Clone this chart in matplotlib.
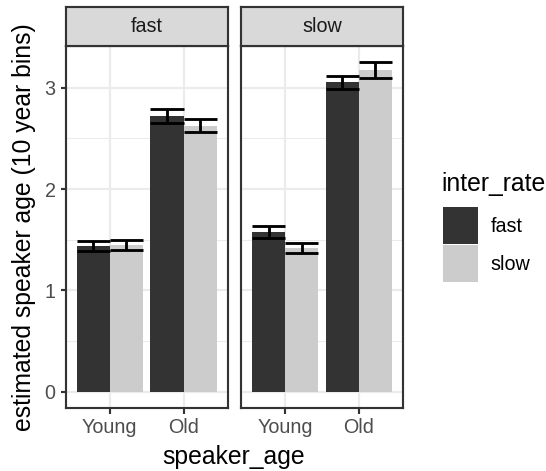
import numpy as np
from matplotlib import pyplot as plt
from matplotlib.patches import Patch

plt.rcParams['font.family'] = ['Liberation Sans', 'DejaVu Sans']

panels = ['fast', 'slow']
ages = ['Young', 'Old']
rates = ['fast', 'slow']
colors = {'fast': '#333333', 'slow': '#CCCCCC'}

# mean per panel, [Young, Old]
mean_fast_rate = {'fast': [1.44, 2.72], 'slow': [1.575, 3.055]}
mean_slow_rate = {'fast': [1.45, 2.625], 'slow': [1.415, 3.175]}
se_fast_rate = {'fast': [0.05, 0.07], 'slow': [0.055, 0.065]}
se_slow_rate = {'fast': [0.05, 0.065], 'slow': [0.05, 0.075]}

means = {'fast': mean_fast_rate, 'slow': mean_slow_rate}
ses = {'fast': se_fast_rate, 'slow': se_slow_rate}

W, H = 546, 471
DPI = 144
fig = plt.figure(figsize=(W / DPI, H / DPI), dpi=DPI)

SMALL = 9.9
BIG = 12.4

def box(x0, y0, x1, y1):
    return [x0 / W, 1 - y1 / H, (x1 - x0) / W, (y1 - y0) / H]

panel_x = [(65.5, 228), (241, 403)]
top, bottom = 46, 408
strip_top = 7

ymax = max(max(np.array(means[r][p]) + np.array(ses[r][p])) for r in rates for p in panels)
ylim = (-0.05 * ymax, ymax * 1.05)

dodge = 0.225
barw = 0.45
x = np.arange(len(ages))
border = '#333333'

for i, p in enumerate(panels):
    x0, x1 = panel_x[i]
    ax = fig.add_axes(box(x0, top, x1, bottom))
    for j, r in enumerate(rates):
        xs = x + (j - 0.5) * 2 * dodge
        m = np.array(means[r][p])
        s = np.array(ses[r][p])
        ax.bar(xs, m, width=barw, color=colors[r], zorder=2)
        ax.vlines(xs, m - s, m + s, color='black', linewidth=1.42, zorder=3)
        ax.hlines(np.concatenate([m - s, m + s]),
                  np.concatenate([xs - barw / 2] * 2),
                  np.concatenate([xs + barw / 2] * 2),
                  color='black', linewidth=1.42, zorder=3)
    ax.set_xlim(-0.6, 1.6)
    ax.set_ylim(*ylim)
    ax.set_xticks(x)
    ax.set_xticklabels(ages)
    ax.set_yticks([0, 1, 2, 3])
    ax.set_yticks([0.5, 1.5, 2.5], minor=True)
    ax.grid(True, which='major', color='#EBEBEB', linewidth=1.07, zorder=0)
    ax.grid(True, which='minor', axis='y', color='#EBEBEB', linewidth=0.53, zorder=0)
    ax.set_axisbelow(True)
    ax.tick_params(axis='both', which='major', length=2.75, width=1.07,
                   color=border, labelcolor='#4D4D4D', labelsize=SMALL, pad=2.2)
    ax.tick_params(axis='both', which='minor', length=0)
    if i > 0:
        ax.tick_params(axis='y', which='both', length=0, labelleft=False)
    for sp in ax.spines.values():
        sp.set_color(border)
        sp.set_linewidth(1.07)

    sax = fig.add_axes(box(x0, strip_top, x1, top))
    sax.set_facecolor('#D9D9D9')
    sax.set_xticks([])
    sax.set_yticks([])
    for sp in sax.spines.values():
        sp.set_color(border)
        sp.set_linewidth(1.07)
    sax.text(0.5, 0.5, p, ha='center', va='center', fontsize=SMALL,
             color='#1A1A1A', transform=sax.transAxes)

fig.text(24 / W, 1 - 227 / H, 'estimated speaker age (10 year bins)',
         rotation=90, ha='center', va='center', fontsize=BIG)
fig.text(234 / W, 1 - 457 / H, 'speaker_age', ha='center', va='center', fontsize=BIG)

fig.text(441 / W, 1 - 184 / H, 'inter_rate', ha='left', va='center', fontsize=BIG)
handles = [Patch(facecolor=colors[r], edgecolor='none') for r in rates]
leg = fig.legend(handles, rates, loc='upper left',
                 bbox_to_anchor=(443 / W, 1 - 207 / H), frameon=False,
                 fontsize=SMALL, handlelength=1.77,
                 handleheight=2.5, handletextpad=0.65, labelspacing=0.05,
                 borderpad=0, borderaxespad=0)

fig.savefig('out.png', dpi=DPI)
